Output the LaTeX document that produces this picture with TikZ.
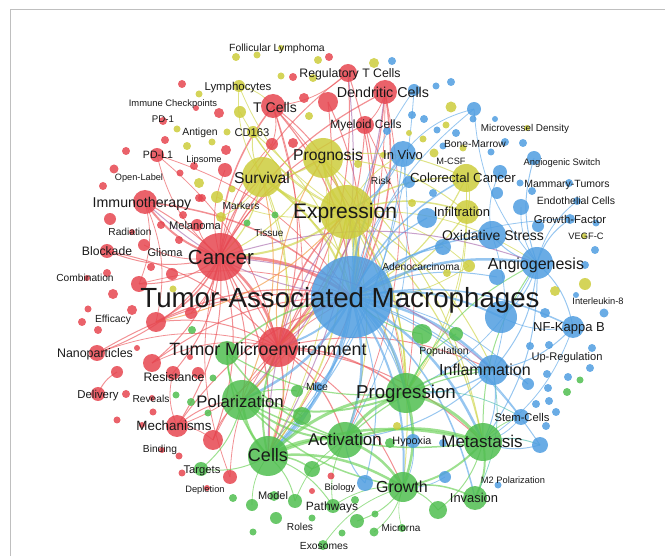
\documentclass[tikz,border=0pt]{standalone}
\usepackage{fontspec}
\setmainfont{Liberation Sans}
\pgfdeclarelayer{edges}
\pgfsetlayers{edges,main}
\definecolor{cred}{RGB}{230,70,80}
\definecolor{cyel}{RGB}{205,205,60}
\definecolor{cblue}{RGB}{80,158,225}
\definecolor{cgreen}{RGB}{80,190,80}
\definecolor{ered}{RGB}{235,85,90}
\definecolor{eyel}{RGB}{205,212,70}
\definecolor{eblue}{RGB}{95,168,232}
\definecolor{egreen}{RGB}{105,208,85}
\definecolor{epurp}{RGB}{170,110,175}
\definecolor{eorange}{RGB}{240,150,60}
\definecolor{eteal}{RGB}{80,190,175}
\begin{document}
\begin{tikzpicture}[x=1pt,y=-1pt,
  dot/.style={circle, inner sep=0pt, draw=none, fill opacity=0.85},
  lab/.style={inner sep=0pt, font=\fontsize{#1}{#1}\selectfont, text height={0.72*#1pt}, text depth=0pt, text=black!90},
  edge/.style={draw=#1, draw opacity=0.65}]
\useasboundingbox (0,0) rectangle (665,556);
\draw[black!25, line width=1pt] (10,556) -- (10,10) -- (665,10);
% red circles
\foreach \n/\x/\y/\r in {cancer/220/257/24, tme/278/347/20, tcell/273/106/12, dc/385/92/12, treg/348/73/9, mye/365/125/9, immu/145/202/12, block/107/251/7, nano/97/353/8, mech/177/426/11, resis/173/373/7, deliv/98/394/7, pdl1/157/155/7, rA/328/102/10, rB/329/57/4, rC/293/77/4, rD/304/98/5, rE/182/84/4, rF/219/113/5, rG/163/121/4, rH/196/108/3, rI/165/140/4, rJ/126/151/4, rK/226/150/5, rL/194/166/4, rM/225/170/7, rN/180/173/3.5, rO/114/169/4.5, rP/103/186/4, rQ/272/144/6, rR/293/143/5, rS/199/198/4, rT/110/219/6, rU/202/198/4, rV/183/215/4, melan/197/225/6, rW/161/225/4, rX/179/240/4, rY/132/232/3, glioma/144/245/6, rZ/151/267/4, ra/172/274/6, rb/107/273/4, rc/87/278/3, rd/139/284/8, re/113/294/5, rf/132/310/5, rg/88/309/3.5, rh/82/322/4, ri/98/330/4, rj/156/322/10, rk/191/313/6, rl/137/348/3, rm/152/363/9, rn/117/372/6, ro/198/373/6, rp/190/357/3, rq/126/394/4, rr/152/398/3, rs/153/412/3.5, rt/117/420/3.5, ru/142/425/3, rv/213/440/10, rw/162/450/3, rx/179/456/3.5, ry/182/473/3.5, rz/230/477/7, rAA/207/488/3, rAB/331/476/3.5, rAC/312/491/3}
  \node[dot, fill=cred, minimum size=2*\r] (\n) at (\x,\y) {};
% yellow circles
\foreach \n/\x/\y/\r in {expr/347/212/27, progn/323/158/20, surv/262/177/20, crc/466/178/14, infil/467/212/12, lymph/239/86/6, cd163/253/132/6, yA/236/57/4, yB/257/55/3.5, yC/281/48/3, yD/318/60/4, yE/281/76/3.5, yF/313/78/4, yG/199/94/3.5, yH/240/112/6, yI/309/116/4, yJ/177/129/3.5, yK/227/132/3.5, yL/212/142/3.5, yM/187/146/4, yN/199/183/5, yO/217/197/6, yP/221/217/5, yQ/232/189/3.5, yR/173/289/3.5, yS/374/63/5, yT/451/107/5.5, yU/446/125/3.5, yV/409/133/3, yW/423/139/3.5, yX/434/153/4.5, yY/463/148/3.5, yZ/527/128/3, ya/358/164/4, yb/383/155/3, yc/412/203/4, adeno/469/266/6, yd/447/273/4, ye/584/236/3, yf/585/284/6, yg/555/291/5, yh/397/426/4}
  \node[dot, fill=cyel, minimum size=2*\r] (\n) at (\x,\y) {};
% blue circles
\foreach \n/\x/\y/\r in {tam/352/297/41, angio/537/263/16, nfkb/573/327/11, infl/493/370/15, oxs/492/235/14, invivo/403/154/13, bb/501/317/16, stem/521/417/8, growthf/570/219/5, mice/318/387/5, hypox/413/441/7, bA/392/61/4, bB/414/90/6, bC/436/86/3.5, bD/451/82/4, bE/474/109/7, bF/473/119/3.5, bG/412/115/4, bH/424/119/4, bI/437/130/3.5, bJ/456/133/4, bK/443/146/3.5, bL/491/152/3.5, bM/495/119/3, bN/505/142/4, bO/523/143/4, bP/387/131/4, switch/534/158/7, bQ/500/172/7, bR/520/183/3.5, bS/532/191/4, bT/569/183/4, bU/497/193/6, bV/409/182/6, bW/433/193/4, bX/427/218/10, bY/443/247/8, bZ/521/207/8, ba/538/226/6, endo/577/201/4, bbb/596/223/3.5, bc/595/250/4, bd/585/265/4, be/497/277/8, bf/576/295/3, bg/604/313/4.5, bh/545/313/5, bi/530/346/4, bj/549/345/4, bk/592/348/4, bl/590/368/4, bm/547/374/4, bn/568/377/4, bo/548/388/4, bp/528/384/6, bq/536/404/4, br/549/401/4, bs/556/412/4, bt/546/426/4, bu/540/445/8, bv/445/477/6, bw/498/485/3.5, bx/365/483/8, by/443/443/4}
  \node[dot, fill=cblue, minimum size=2*\r] (\n) at (\x,\y) {};
% green circles
\foreach \n/\x/\y/\r in {cells/268/456/20, act/345/440/18, prog/406/393/20, meta/483/442/19, growth/403/487/15, polar/242/400/20, tmeg/227/353/12, inva/475/498/12, targ/201/469/7, path/333/506/7, gA/192/330/4, gB/275/215/3.5, gC/247/223/3.5, gD/213/378/3.5, gE/176/395/3.5, gF/191/402/4, gG/208/413/3.5, gH/233/498/4, gI/252/505/6, gJ/276/518/6, gK/295/501/7, gL/274/496/5, gM/253/532/3.5, gN/312/518/3.5, gO/323/545/5, gP/312/469/8, gQ/302/416/9, gR/297/391/6, gS/355/500/4, gT/357/521/7, gU/375/514/3.5, gV/342/533/3.5, gW/374/532/4.5, gX/402/528/4, gY/390/443/5, gZ/438/510/9, ga/422/334/10, gb/456/334/7, gc/580/380/3.5, gd/567/392/4}
  \node[dot, fill=cgreen, minimum size=2*\r] (\n) at (\x,\y) {};
\begin{pgfonlayer}{edges}
\foreach \a/\b/\w in {cancer/immu/2, cancer/block/1, cancer/nano/1, cancer/tme/2.5, cancer/tcell/1.5, cancer/dc/1.2, cancer/treg/1, cancer/mye/1, cancer/tam/3, cancer/rj/1.5, cancer/resis/1, cancer/mech/1, cancer/progn/1, cancer/surv/1.2, cancer/cells/1.2, cancer/polar/1, cancer/pdl1/0.8, cancer/melan/0.8, cancer/glioma/0.8, cancer/rd/1, cancer/rm/1, cancer/rv/1, cancer/rQ/0.8, cancer/rM/0.8, cancer/rk/0.8, tcell/tme/1, tcell/tam/1.2, tcell/expr/1, tcell/prog/0.8, tcell/cells/0.8, tcell/rQ/0.8, dc/tme/1.2, dc/tam/1.5, dc/cells/0.8, dc/act/0.8, dc/mye/0.8, treg/tam/1, treg/tme/1, treg/tcell/0.8, rA/tme/1, rA/tam/1, mye/tam/1, mye/tme/1, mye/prog/0.8, tme/tam/2.5, tme/polar/1.5, tme/cells/1.5, tme/prog/1.5, tme/meta/1, tme/act/1.2, tme/growth/1, tme/expr/1.5, tme/infl/1, tme/mech/0.8, immu/tam/1.5, immu/tme/1, immu/rj/0.8, immu/rd/0.8, mech/tam/1, mech/polar/1, mech/rv/0.8, mech/resis/0.8, rv/tam/0.8, rv/polar/1, nano/tam/1, nano/tme/0.8, deliv/rn/1, rz/cancer/0.8, rz/tme/0.8, block/tme/1, rj/tam/1.2, rj/tme/1, pdl1/tme/0.8, pdl1/tam/0.8, rm/tam/1, rm/tme/0.8, rd/tam/0.8}
  \draw[edge=ered, line width=\w] (\a.center) to[bend left=18] (\b.center);
\foreach \a/\b/\w in {expr/tam/4, expr/progn/2.5, expr/surv/2.5, expr/crc/1.5, expr/infil/1.5, expr/cancer/2, expr/tme/1.5, expr/cells/1.5, expr/prog/1.5, expr/meta/1.2, expr/act/1, expr/polar/1, expr/growth/1, expr/lymph/0.8, expr/cd163/1, expr/adeno/0.8, expr/invivo/0.8, expr/yH/0.8, expr/yO/0.8, expr/infl/1, expr/angio/0.8, progn/tam/2, progn/surv/1.5, progn/crc/1, progn/cancer/1, progn/infil/1, progn/meta/1, progn/prog/1, progn/cells/0.8, surv/tam/2, surv/cancer/1.2, surv/tme/1, surv/lymph/0.8, surv/cd163/1, surv/yP/0.8, surv/prog/1, surv/cells/0.8, crc/tam/1.2, crc/infil/0.8, crc/prog/0.8, infil/tam/1.2, infil/prog/0.8, cd163/tam/1, lymph/tcell/0.8, adeno/tam/0.8}
  \draw[edge=eyel, line width=\w] (\a.center) to[bend left=18] (\b.center);
\foreach \a/\b/\w in {tam/angio/2.5, tam/invivo/2, tam/nfkb/1.5, tam/infl/2.5, tam/oxs/1.5, tam/bb/2, tam/stem/1, tam/prog/3, tam/meta/2.5, tam/cells/3, tam/act/2.5, tam/polar/2.5, tam/growth/2, tam/crc/1.5, tam/hypox/1, tam/mice/1.2, tam/bX/1.2, tam/bY/1.2, tam/inva/1.5, tam/bu/1, tam/growthf/0.8, tam/bE/0.8, tam/bB/0.8, tam/be/1, tam/bp/0.8, tam/bx/1, tam/tme/2, tam/bV/0.8, angio/switch/1, angio/growthf/1, angio/nfkb/1, angio/infl/1, angio/oxs/1, angio/endo/0.8, angio/bZ/0.8, angio/meta/1, angio/prog/0.8, angio/bE/0.8, angio/bb/1, invivo/expr/1, invivo/cells/1, invivo/bE/0.8, invivo/act/0.8, nfkb/infl/1, nfkb/meta/0.8, nfkb/bb/0.8, infl/meta/1, infl/prog/1.2, infl/act/1, infl/bp/0.8, oxs/infl/0.8, oxs/bQ/0.8, stem/meta/0.8, hypox/growth/0.8, bu/meta/1, bx/act/1, bB/cells/0.8, mice/cells/0.8, bv/growth/0.8}
  \draw[edge=eblue, line width=\w] (\a.center) to[bend left=18] (\b.center);
\foreach \a/\b/\w in {cells/act/3, cells/prog/3, cells/polar/2.5, cells/growth/2.5, cells/meta/2.5, cells/tme/2, cells/tmeg/1.5, cells/targ/1, cells/path/1, cells/gK/1, cells/gP/1.5, cells/gQ/1, act/prog/3, act/meta/2.5, act/growth/2.5, act/polar/2, act/tmeg/1.5, act/infl/1.2, act/gP/1, prog/meta/3, prog/growth/2.5, prog/polar/2, prog/infl/1.5, prog/tmeg/1.2, prog/angio/1, prog/gb/1, meta/growth/2, meta/inva/2, meta/polar/1.5, meta/angio/1, meta/stem/0.8, meta/gZ/1, growth/inva/1.5, growth/polar/1.5, growth/gT/1, growth/gZ/1, growth/gW/0.8, polar/tmeg/1.5, polar/targ/1, polar/gQ/1, polar/gR/1, path/growth/0.8, path/act/0.8, tmeg/tam/1.5, ga/tam/1, ga/prog/0.8, gK/act/0.8, gI/cells/0.8, gO/growth/0.8, gX/growth/0.6}
  \draw[edge=egreen, line width=\w] (\a.center) to[bend left=18] (\b.center);
\foreach \a/\b/\w in {treg/cells/1, dc/polar/1, cancer/angio/1, cancer/infl/1, tam/immu/1, cells/expr/1}
  \draw[edge=epurp, line width=\w] (\a.center) to[bend left=18] (\b.center);
\foreach \a/\b/\w in {tme/progn/1, expr/rj/1, surv/polar/1}
  \draw[edge=eorange, line width=\w] (\a.center) to[bend left=18] (\b.center);
\foreach \a/\b/\w in {prog/stem/0.8, infl/inva/0.8, meta/bu/1}
  \draw[edge=eteal, line width=\w] (\a.center) to[bend left=18] (\b.center);
\end{pgfonlayer}
% labels
\foreach \n/\x/\y/\s/\t in {lTAM/340/298/27.7/Tumor-Associated Macrophages, lExpr/345/211/21/Expression, lCancer/221/257/20.5/Cancer, lTME/268/349/17.8/Tumor Microenvironment, lProg/406/392/18.7/Progression, lMeta/482/441/17/Metastasis, lCells/268/455/18/Cells, lAct/345/439/17/Activation, lGrowth/402/487/16/Growth, lPolar/240/401/16.7/Polarization, lInfl/485/370/16/Inflammation, lAngio/536/264/16/Angiogenesis, lNFKB/569/327/13/NF-Kappa B, lOxs/493/235/14/Oxidative Stress, lInfil/462/212/13/Infiltration, lCRC/463/178/13.2/Colorectal Cancer, lInVivo/403/155/13/In Vivo, lProgn/328/155/15.7/Prognosis, lSurv/262/178/15.7/Survival, lTcell/275/107/14/T Cells, lDC/383/92/14.3/Dendritic Cells, lTreg/350/73/12.3/Regulatory T Cells, lMye/366/124/12/Myeloid Cells, lImmu/142/202/14.2/Immunotherapy, lBlock/107/251/12.2/Blockade, lNano/95/353/12.4/Nanoparticles, lMech/174/426/13.4/Mechanisms, lResis/174/377/12.3/Resistance, lDeliv/98/394/11.4/Delivery, lTarg/202/469/11.2/Targets, lPath/332/506/12/Pathways, lInva/474/498/12.9/Invasion, lStem/522/417/11.2/Stem-Cells, lUpreg/567/357/11.1/Up-Regulation, lIL8/598/301/9.3/Interleukin-8, lGF/570/219/11.3/Growth-Factor, lEndo/576/201/10.5/Endothelial Cells, lMamm/567/184/10.5/Mammary-Tumors, lSwitch/562/162/9.4/Angiogenic Switch, lVEGF/586/236/9.3/VEGF-C, lMVD/525/128/9.9/Microvessel Density, lBM/475/144/10.3/Bone-Marrow, lMCSF/451/161/9.2/M-CSF, lRisk/381/181/10.3/Risk, lAdeno/421/267/10.3/Adenocarcinoma, lPop/444/351/10.4/Population, lHyp/412/441/10.8/Hypoxia, lMice/317/387/10.4/Mice, lM2/513/480/9.3/M2 Polarization, lMir/401/528/10/Microrna, lExo/324/546/10.3/Exosomes, lRoles/300/527/10.2/Roles, lModel/273/496/11/Model, lBio/340/487/9.4/Biology, lDepl/205/489/9.3/Depletion, lBind/160/449/10.2/Binding, lRev/151/399/10.2/Reveals, lEff/113/319/10.3/Efficacy, lComb/85/278/10.2/Combination, lRad/130/232/10.2/Radiation, lGlioma/165/253/11/Glioma, lMelan/195/226/11.1/Melanoma, lMark/241/206/10.2/Markers, lTiss/269/233/10/Tissue, lOpen/139/177/9.2/Open-Label, lLip/204/159/9.3/Lipsome, lPDL1/158/155/10.6/PD-L1, lAnt/200/132/10.4/Antigen, lCD163/252/132/11.2/CD163, lPD1/163/119/9.7/PD-1, lICP/173/103/9.4/Immune Checkpoints, lLymph/238/86/11.4/Lymphocytes, lFL/277/48/10.4/Follicular Lymphoma}
  \node[lab=\s] (\n) at (\x,\y) {\t};
\end{tikzpicture}
\end{document}
